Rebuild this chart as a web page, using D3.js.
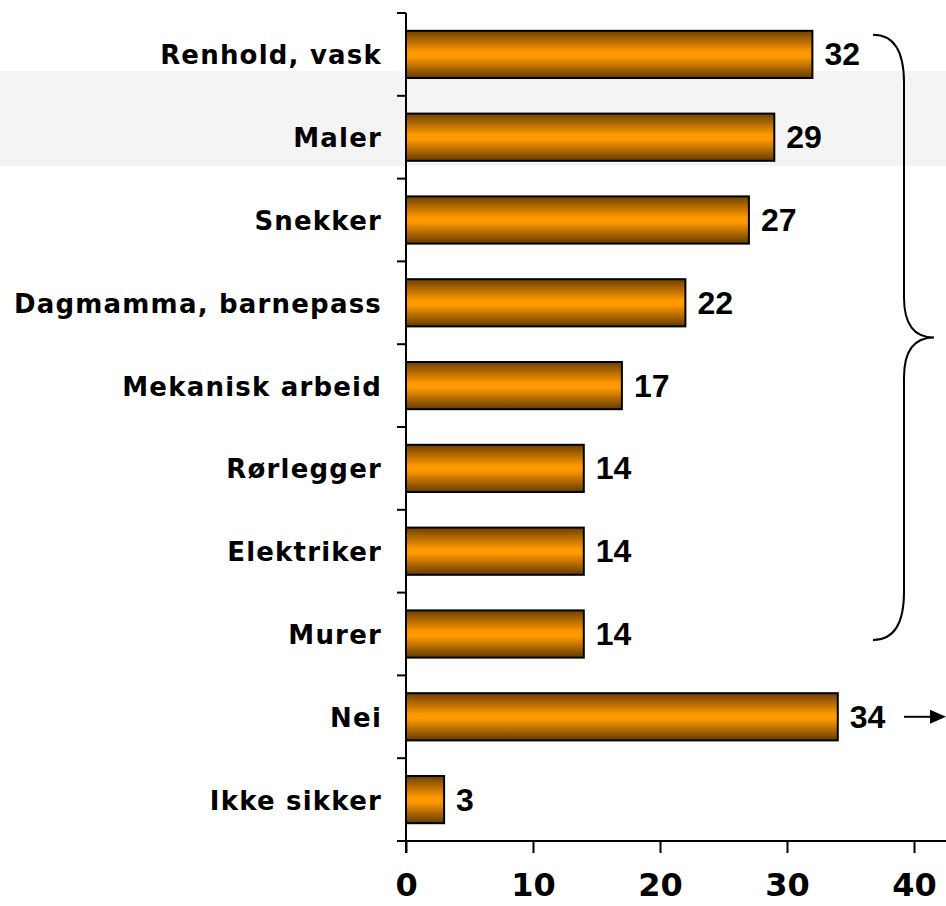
<!DOCTYPE html>
<html>
<head>
<meta charset="utf-8">
<script src="https://cdn.jsdelivr.net/npm/d3@7"></script>
<style>
  body { margin: 0; background: #fff; }
  svg { display: block; }
</style>
</head>
<body>
<svg id="chart" width="946" height="906"></svg>
<script>
// chart data
var categories = ["Renhold, vask", "Maler", "Snekker", "Dagmamma, barnepass",
    "Mekanisk arbeid", "Rørlegger", "Elektriker", "Murer", "Nei", "Ikke sikker"];
var values = [32, 29, 27, 22, 17, 14, 14, 14, 34, 3];
var xTicks = [0, 10, 20, 30, 40];
var bracedCount = 8;   // first 8 bars are grouped by the brace
var arrowIndex = 8;    // "Nei" gets the arrow

var svg = d3.select("#chart");

// grey strip in the background
svg.append("rect")
    .attr("x", 0).attr("y", 71)
    .attr("width", 946).attr("height", 95)
    .attr("fill", "#f4f4f4");

var x = d3.scaleLinear().domain([0, 40]).range([406, 914]);
var y = d3.scaleBand().domain(categories).range([13, 841]).paddingInner(0.43).paddingOuter(0.215);

// bar gradient
var grad = svg.append("defs").append("linearGradient")
    .attr("id", "barGrad")
    .attr("x1", 0).attr("y1", 0).attr("x2", 0).attr("y2", 1);
grad.append("stop").attr("offset", "0%").attr("stop-color", "#6e4000");
grad.append("stop").attr("offset", "45%").attr("stop-color", "#ff9900");
grad.append("stop").attr("offset", "55%").attr("stop-color", "#ff9900");
grad.append("stop").attr("offset", "100%").attr("stop-color", "#643a00");

// bars
svg.selectAll("rect.bar")
    .data(values)
    .enter().append("rect")
    .attr("class", "bar")
    .attr("x", x(0))
    .attr("y", function(d, i) { return y(categories[i]); })
    .attr("width", function(d) { return x(d) - x(0); })
    .attr("height", y.bandwidth())
    .attr("fill", "url(#barGrad)")
    .attr("stroke", "#000")
    .attr("stroke-width", 2);

// value labels
svg.selectAll("text.val")
    .data(values)
    .enter().append("text")
    .attr("class", "val")
    .attr("x", function(d) { return x(d) + 12; })
    .attr("y", function(d, i) { return y(categories[i]) + y.bandwidth() / 2 + 11; })
    .attr("font-family", "Liberation Sans, Arial, sans-serif")
    .attr("font-weight", "bold")
    .attr("font-size", 32)
    .text(function(d) { return d; });

// category labels
svg.selectAll("text.cat")
    .data(categories)
    .enter().append("text")
    .attr("class", "cat")
    .attr("x", 382)
    .attr("y", function(d) { return y(d) + y.bandwidth() / 2 + 10; })
    .attr("text-anchor", "end")
    .attr("font-family", "DejaVu Sans, Verdana, sans-serif")
    .attr("font-weight", "bold")
    .attr("font-size", 26)
    .attr("letter-spacing", 1.2)
    .text(function(d) { return d; });

// y axis line with ticks on band boundaries
var yTop = y.range()[0], yBot = y.range()[1];
svg.append("line")
    .attr("x1", x(0)).attr("x2", x(0))
    .attr("y1", yTop).attr("y2", yBot + 12)
    .attr("stroke", "#000").attr("stroke-width", 2);
var bounds = d3.range(categories.length + 1).map(function(i) { return yTop + i * (yBot - yTop) / categories.length; });
svg.selectAll("line.ytick")
    .data(bounds)
    .enter().append("line")
    .attr("class", "ytick")
    .attr("x1", x(0) - 9).attr("x2", x(0))
    .attr("y1", function(d) { return d; }).attr("y2", function(d) { return d; })
    .attr("stroke", "#000").attr("stroke-width", 2);

// x axis
var xAxis = svg.append("g")
    .attr("transform", "translate(0," + yBot + ")")
    .call(d3.axisBottom(x).tickValues(xTicks).tickSize(12).tickSizeOuter(0).tickPadding(20));
xAxis.select(".domain").attr("stroke", "#000").attr("stroke-width", 2)
    .attr("d", "M" + (x(0) - 9) + ",0H946");
xAxis.selectAll(".tick line").attr("stroke", "#000").attr("stroke-width", 2);
xAxis.selectAll(".tick text")
    .attr("fill", "#000")
    .attr("font-family", "DejaVu Sans, Verdana, sans-serif")
    .attr("font-weight", "bold")
    .attr("font-size", 32);

// brace around the first group
var bTop = y(categories[0]) + 4;
var bBot = y(categories[bracedCount - 1]) + y.bandwidth() / 2 + 6;
var bMid = (bTop + bBot) / 2;
var bx0 = 873, bx1 = 904, bTip = 934;
var brace = d3.path();
brace.moveTo(bx0, bTop);
brace.quadraticCurveTo(bx1, bTop, bx1, bTop + 48);
brace.lineTo(bx1, bMid - 40);
brace.quadraticCurveTo(bx1, bMid, bTip, bMid);
brace.quadraticCurveTo(bx1, bMid, bx1, bMid + 40);
brace.lineTo(bx1, bBot - 48);
brace.quadraticCurveTo(bx1, bBot, bx0, bBot);
svg.append("path")
    .attr("d", brace.toString())
    .attr("fill", "none")
    .attr("stroke", "#000")
    .attr("stroke-width", 2);

// arrow next to "Nei"
var ay = y(categories[arrowIndex]) + y.bandwidth() / 2;
svg.append("line")
    .attr("x1", 904).attr("x2", 932)
    .attr("y1", ay).attr("y2", ay)
    .attr("stroke", "#000").attr("stroke-width", 2);
svg.append("path")
    .attr("d", "M930," + (ay - 7) + "L946," + ay + "L930," + (ay + 7) + "Z")
    .attr("fill", "#000");
</script>
</body>
</html>
